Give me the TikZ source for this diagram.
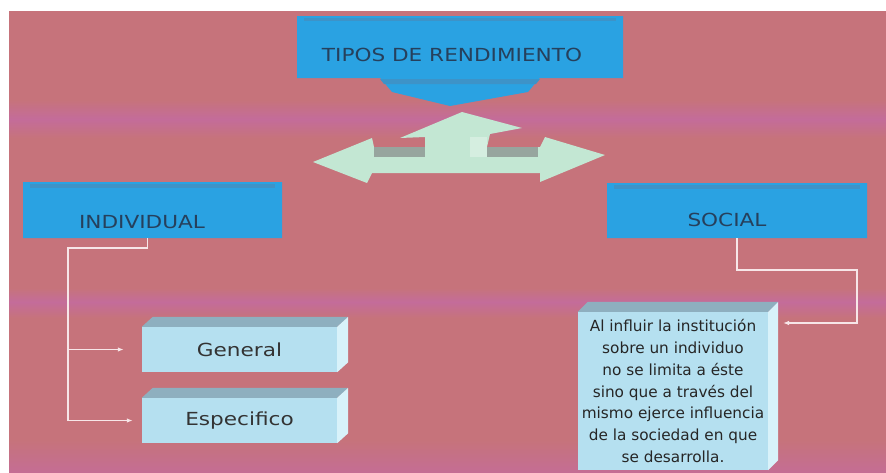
\documentclass[tikz,border=0pt]{standalone}
\usepackage{fontspec}
\setmainfont{DejaVu Sans}
\newfontfamily\headfont[FakeStretch=1.2]{DejaVu Sans}
\usetikzlibrary{shapes.misc,arrows.meta}

\definecolor{fondo}{HTML}{C6737B}
\definecolor{banda}{HTML}{C46C9A}
\definecolor{azul}{HTML}{2AA2E2}
\definecolor{azulsup}{HTML}{3D93C8}
\definecolor{celeste}{HTML}{B5E0F0}
\definecolor{celestesup}{HTML}{8EAFBF}
\definecolor{celestelado}{HTML}{D8F2FA}
\definecolor{verde}{HTML}{C3E7D3}
\definecolor{verdesombra}{HTML}{97A59E}
\definecolor{textoazul}{HTML}{26405C}
\definecolor{linea}{HTML}{F7E6E8}

\tikzset{
  bluebox/.style={chamfered rectangle, chamfered rectangle xsep=5pt,
                  chamfered rectangle ysep=5pt, fill=azul, inner sep=0pt},
  headtxt/.style={font=\headfont\fontsize{18}{20}\selectfont, text=textoazul, inner sep=0pt},
  slab/.style={rectangle, fill=celeste, inner sep=0pt, minimum width=195pt,
               minimum height=45pt, text=black!80, font=\headfont\fontsize{18}{20}\selectfont},
  conn/.style={draw=linea, line width=1.3pt, -{Latex[length=6pt,width=4.5pt]}}
}

\begin{document}
\begin{tikzpicture}[x=1pt,y=-1pt]
  \useasboundingbox (0,0) rectangle (886,472);
  \fill[white] (0,0) rectangle (886,472);
  \fill[fondo] (9,11) rectangle (886,472);
  \shade[top color=fondo, bottom color=banda] (9,100) rectangle (886,119);
  \shade[top color=banda, bottom color=fondo] (9,119) rectangle (886,138);
  \shade[top color=fondo, bottom color=banda] (9,288) rectangle (886,302);
  \shade[top color=banda, bottom color=fondo] (9,302) rectangle (886,318);
  \shade[top color=fondo, bottom color=banda!80!fondo] (9,440) rectangle (886,472);

  % caja superior
  \fill[azul] (377,74) -- (543,74) -- (528,92) -- (450,106) -- (392,92) -- cycle;
  \fill[azulsup] (380,79) -- (540,79) -- (536,84) -- (384,84) -- cycle;
  \node[bluebox, minimum width=326pt, minimum height=62pt] (tipos) at (460,47) {};
  \fill[azulsup] ([shift={(7,2)}]tipos.north west) rectangle ([shift={(-7,5)}]tipos.north east);
  \node[headtxt] (tiposlbl) at (452,55) {TIPOS DE RENDIMIENTO};

  % flecha triple
  \fill[verde] (313,162) -- (372,138) -- (374,147) -- (540,147) -- (545,137)
    -- (605,155) -- (540,182) -- (540,173) -- (372,173) -- (367,183) -- cycle;
  \fill[verde] (425,147) -- (425,137) -- (400,138) -- (462,112) -- (522,128)
    -- (490,134) -- (487,147) -- cycle;
  \fill[verdesombra] (374,147) rectangle (425,157);
  \fill[verdesombra] (487,147) rectangle (538,157);
  \fill[verde!70!white] (470,137) rectangle (487,157);

  % individual
  \node[bluebox, minimum width=259pt, minimum height=56pt] (individual) at (152.5,210) {};
  \fill[azulsup] ([shift={(7,2)}]individual.north west) rectangle ([shift={(-7,6)}]individual.north east);
  \node[headtxt] (individuallbl) at (142,222) {INDIVIDUAL};

  % social
  \node[bluebox, minimum width=260pt, minimum height=55pt] (social) at (737,210.5) {};
  \fill[azulsup] ([shift={(7,2)}]social.north west) rectangle ([shift={(-7,6)}]social.north east);
  \node[headtxt] (sociallbl) at (727,220) {SOCIAL};

  % general
  \node[slab] (general) at (239.5,349.5) {General};
  \fill[celestesup] (general.north west) -- ++(11,-10) -- ([shift={(11,-10)}]general.north east)
    -- (general.north east) -- cycle;
  \fill[celestelado] (general.north east) -- ++(11,-10) -- ([shift={(11,-10)}]general.south east)
    -- (general.south east) -- cycle;

  % especifico
  \node[slab] (especifico) at (239.5,420.5) {Especifico};
  \fill[celestesup] (especifico.north west) -- ++(11,-10) -- ([shift={(11,-10)}]especifico.north east)
    -- (especifico.north east) -- cycle;
  \fill[celestelado] (especifico.north east) -- ++(11,-10) -- ([shift={(11,-10)}]especifico.south east)
    -- (especifico.south east) -- cycle;

  % texto social
  \node[rectangle, fill=celeste, inner sep=0pt, minimum width=190pt, minimum height=158pt,
        align=center, text=black!85, font=\fontsize{15.3}{21.7}\selectfont] (efecto) at (673,391)
    {Al influir la institución\\sobre un individuo\\no se limita a éste\\sino que a través del\\
     mismo ejerce influencia\\de la sociedad en que\\se desarrolla.};
  \fill[celestesup] (efecto.north west) -- ++(10,-10) -- ([shift={(10,-10)}]efecto.north east)
    -- (efecto.north east) -- cycle;
  \fill[celestelado] (efecto.north east) -- ++(10,-10) -- ([shift={(10,-10)}]efecto.south east)
    -- (efecto.south east) -- cycle;

  % conectores
  \coordinate (tronco) at (68,248);
  \coordinate (sbend) at (857,270);
  \coordinate (sin) at (783,323);
  \draw[conn, shorten >=9pt] ([xshift=-5pt]individual.south) |- (tronco) |- (especifico.west);
  \draw[conn, shorten >=18pt] (tronco |- general.west) -- (general.west);
  \draw[conn] (social.south) |- (sbend) |- (sin);
\end{tikzpicture}
\end{document}
